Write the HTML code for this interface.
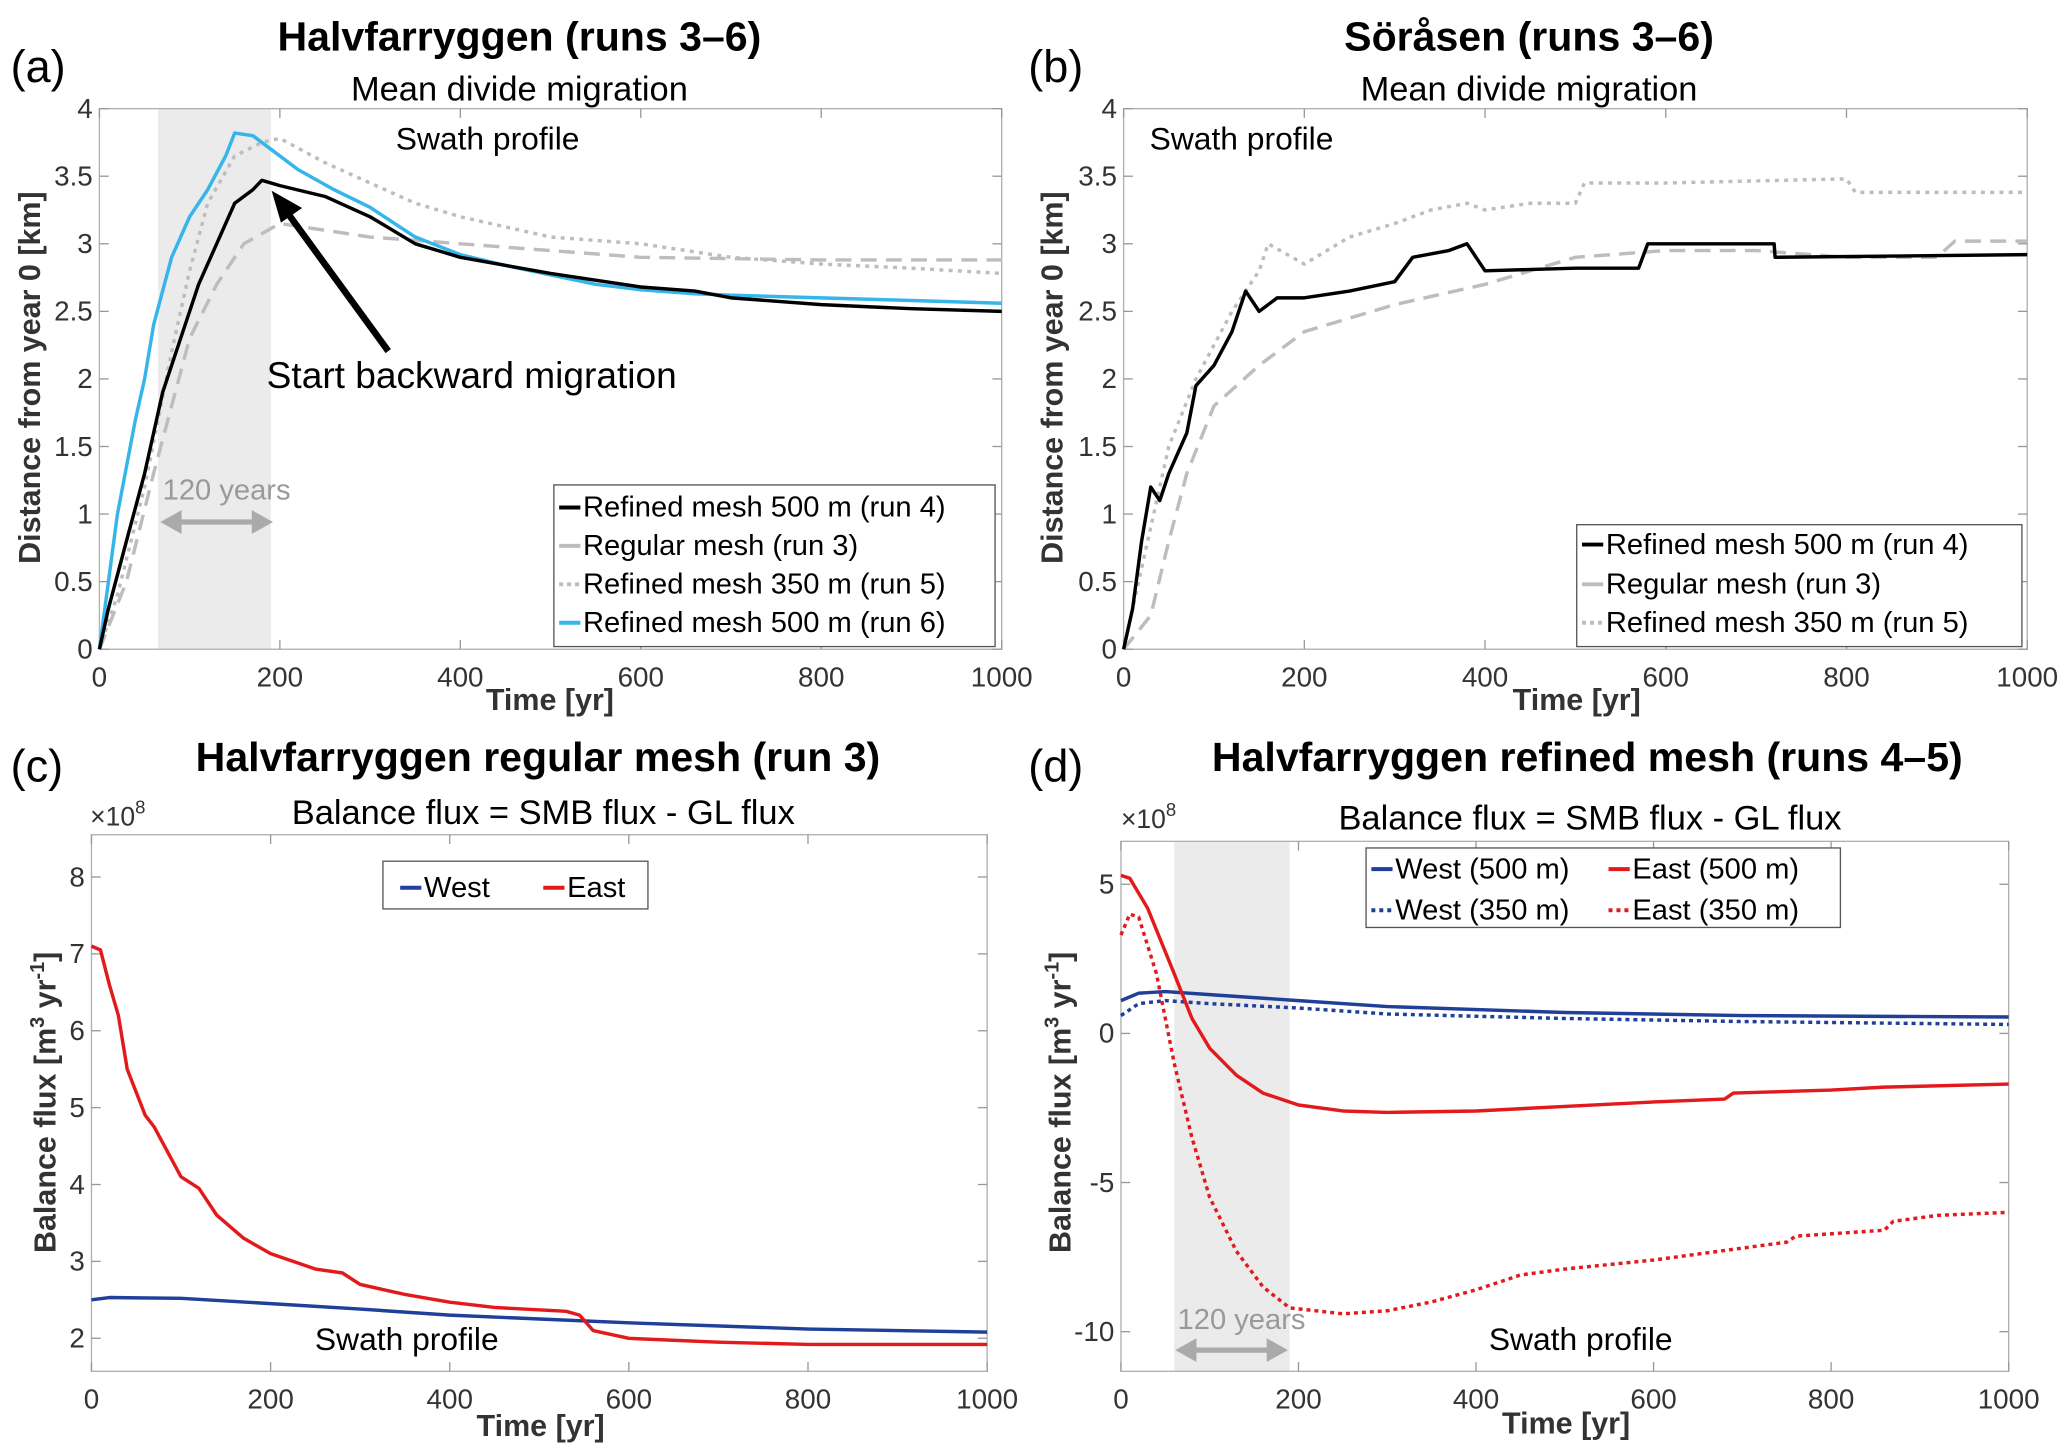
<!DOCTYPE html>
<html><head><meta charset="utf-8"><style>
html,body{margin:0;padding:0;background:#fff}
svg{display:block}
text{font-family:"Liberation Sans",sans-serif}
</style></head><body>
<svg id="fig" width="2067" height="1454" viewBox="0 0 1560 1097.4" xmlns="http://www.w3.org/2000/svg"></svg>
<script>
const timeTicks=[0,200,400,600,800,1000];
const aYTicks=[0,0.5,1,1.5,2,2.5,3,3.5,4];
const cYTicks=[2,3,4,5,6,7,8];
const dYTicks=[-10,-5,0,5];
const aRun4T=[0,10,30,50,70,90,110,130,150,170,180,200,250,300,350,400,500,600,660,700,800,900,1000];
const aRun4V=[0,0.3,0.8,1.3,1.9,2.3,2.7,3.0,3.3,3.4,3.47,3.43,3.35,3.2,3.0,2.9,2.78,2.68,2.65,2.6,2.55,2.52,2.5];
const aRun6T=[0,10,20,40,50,60,80,100,120,140,150,170,190,220,260,300,350,400,450,500,550,600,660,700,800,900,1000];
const aRun6V=[0,0.5,1.0,1.7,2.0,2.4,2.9,3.2,3.4,3.65,3.82,3.8,3.7,3.55,3.4,3.27,3.05,2.92,2.84,2.77,2.7,2.66,2.63,2.62,2.6,2.58,2.56];
const aRun5T=[0,20,50,80,100,120,150,180,200,250,300,350,400,500,600,700,800,900,1000];
const aRun5V=[0,0.4,1.2,2.2,2.8,3.3,3.65,3.75,3.78,3.6,3.45,3.3,3.2,3.05,3.0,2.9,2.85,2.82,2.78];
const aRun3T=[0,30,60,80,100,130,160,200,250,300,400,500,600,800,1000];
const aRun3V=[0,0.5,1.3,1.8,2.3,2.7,3.0,3.15,3.1,3.05,3.0,2.95,2.9,2.88,2.88];
const bRun4T=[0,10,20,30,40,50,70,80,100,120,135,150,170,200,250,300,320,360,380,400,500,570,580,720,721,1000];
const bRun4V=[0,0.3,0.8,1.2,1.1,1.3,1.6,1.95,2.1,2.35,2.65,2.5,2.6,2.6,2.65,2.72,2.9,2.95,3.0,2.8,2.82,2.82,3.0,3.0,2.9,2.92];
const bRun5T=[0,20,50,80,120,150,160,200,250,300,340,380,400,450,500,510,600,800,810,1000];
const bRun5V=[0,0.6,1.5,2.0,2.5,2.8,3.0,2.85,3.05,3.15,3.25,3.3,3.25,3.3,3.3,3.45,3.45,3.48,3.38,3.38];
const bRun3T=[0,30,50,70,100,150,200,300,400,500,600,700,800,900,920,1000];
const bRun3V=[0,0.25,0.8,1.3,1.8,2.1,2.35,2.55,2.7,2.9,2.95,2.95,2.9,2.9,3.02,3.02];
const cEastT=[0,10,20,30,40,60,70,100,120,140,170,200,250,280,300,350,400,450,530,545,560,600,700,800,1000];
const cEastV=[7.1,7.05,6.6,6.2,5.5,4.9,4.75,4.1,3.95,3.6,3.3,3.1,2.9,2.85,2.7,2.57,2.47,2.4,2.35,2.3,2.1,2.0,1.95,1.92,1.92];
const cWestT=[0,20,100,200,300,400,500,600,800,1000];
const cWestV=[2.5,2.53,2.52,2.45,2.38,2.3,2.25,2.2,2.12,2.08];
const dE500T=[0,10,30,60,80,100,130,160,200,250,300,400,500,600,680,690,800,860,1000];
const dE500V=[5.3,5.2,4.2,2.0,0.5,-0.5,-1.4,-2.0,-2.4,-2.6,-2.65,-2.6,-2.45,-2.3,-2.2,-2.0,-1.9,-1.8,-1.7];
const dE350T=[0,10,20,40,60,80,100,130,160,190,250,300,350,400,430,450,500,600,700,750,760,860,870,920,1000];
const dE350V=[3.3,4.0,3.9,2.0,-1.0,-3.5,-5.5,-7.3,-8.5,-9.2,-9.4,-9.3,-9.0,-8.6,-8.3,-8.1,-7.9,-7.6,-7.2,-7.0,-6.8,-6.6,-6.3,-6.1,-6.0];
const dW500T=[0,20,50,100,200,300,500,700,1000];
const dW500V=[1.1,1.35,1.4,1.3,1.1,0.9,0.7,0.6,0.55];
const dW350T=[0,20,50,100,200,300,500,700,1000];
const dW350V=[0.6,1.0,1.1,1.0,0.85,0.65,0.5,0.4,0.3];

const NS="http://www.w3.org/2000/svg";
const svg=document.getElementById('fig');
function el(tag,attrs,parent,txt){const e=document.createElementNS(NS,tag);for(const k in attrs)e.setAttribute(k,attrs[k]);if(txt!==undefined)e.textContent=txt;(parent||svg).appendChild(e);return e;}
function txt(x,y,s,size,opts,name){const t=el('text',Object.assign({x:x,y:y,'font-size':size},opts||{}),svg,s);


return t;}
function panel(p){
  const sx=v=>p.x0+(v-p.xmin)/(p.xmax-p.xmin)*(p.x1-p.x0);
  const sy=v=>p.y0-(v-p.ymin)/(p.ymax-p.ymin)*(p.y0-p.y1);
  const g=el('g',{});
  
  
  if(p.shade){const r=el('rect',{x:sx(p.shade[0]),y:p.y1,width:sx(p.shade[1])-sx(p.shade[0]),height:p.y0-p.y1,fill:'#ebebeb'},g);
  
  }
  el('rect',{x:p.x0,y:p.y1,width:p.x1-p.x0,height:p.y0-p.y1,fill:'none',stroke:'#b0b0b0','stroke-width':1},g);
  timeTicks.forEach(v=>{const x=sx(v);el('line',{x1:x,x2:x,y1:p.y0,y2:p.y0-7,stroke:'#999'},g);el('line',{x1:x,x2:x,y1:p.y1,y2:p.y1+7,stroke:'#999'},g);
    const t=el('text',{x:x,y:p.y0+28,'font-size':21,'text-anchor':'middle',fill:'#333'},g,String(v));
    
    });
  p.yticks.forEach(v=>{const y=sy(v);el('line',{x1:p.x0,x2:p.x0+7,y1:y,y2:y,stroke:'#999'},g);el('line',{x1:p.x1,x2:p.x1-7,y1:y,y2:y,stroke:'#999'},g);
    const t=el('text',{x:p.x0-5,y:y+7,'font-size':21,'text-anchor':'end',fill:'#333'},g,String(v));
    
    });
  p.series.forEach(s=>{const d=s.t.map((t,i)=>(i?'L':'M')+sx(t).toFixed(1)+','+sy(s.v[i]).toFixed(1)).join('');
    const path=el('path',{d:d,fill:'none',stroke:s.c,'stroke-width':s.w||2.6,'stroke-dasharray':s.dash||'none','stroke-linejoin':'round'},g);
    
    });
  return {sx,sy};
}
const GR='#bdbdbd';
panel({name:'panel-a-plot',x0:75,x1:756,y0:490,y1:82,xmin:0,xmax:1000,ymin:0,ymax:4,yticks:aYTicks,shade:[65,190],series:[
 {t:aRun3T,v:aRun3V,c:GR,dash:'12,7',name:'line-run3'},
 {t:aRun5T,v:aRun5V,c:GR,dash:'3,4',name:'line-run5'},
 {t:aRun6T,v:aRun6V,c:'#35b5ea',name:'line-run6'},
 {t:aRun4T,v:aRun4V,c:'#000',name:'line-run4'}]});
panel({name:'panel-b-plot',x0:848,x1:1530,y0:490,y1:82,xmin:0,xmax:1000,ymin:0,ymax:4,yticks:aYTicks,series:[
 {t:bRun3T,v:bRun3V,c:GR,dash:'12,7',name:'line-run3'},
 {t:bRun5T,v:bRun5V,c:GR,dash:'3,4',name:'line-run5'},
 {t:bRun4T,v:bRun4V,c:'#000',name:'line-run4'}]});
panel({name:'panel-c-plot',x0:69,x1:745,y0:1035,y1:630,xmin:0,xmax:1000,ymin:1.57,ymax:8.55,yticks:cYTicks,series:[
 {t:cWestT,v:cWestV,c:'#1f3f98',name:'line-west'},
 {t:cEastT,v:cEastV,c:'#e31a1c',name:'line-east'}]});
panel({name:'panel-d-plot',x0:846,x1:1516,y0:1035,y1:635,xmin:0,xmax:1000,ymin:-11.33,ymax:6.44,yticks:dYTicks,shade:[60,190],series:[
 {t:dW500T,v:dW500V,c:'#1f3f98',name:'line-west-500'},
 {t:dW350T,v:dW350V,c:'#1f3f98',dash:'3,3',name:'line-west-350'},
 {t:dE500T,v:dE500V,c:'#e31a1c',name:'line-east-500'},
 {t:dE350T,v:dE350V,c:'#e31a1c',dash:'3,3',name:'line-east-350'}]});

// titles
txt(392,38,'Halvfarryggen (runs 3–6)',31,{'font-weight':'bold','text-anchor':'middle'},'title-a');
txt(392,76,'Mean divide migration',26,{'text-anchor':'middle'},'subtitle-a');
txt(1154,38,'Söråsen (runs 3–6)',31,{'font-weight':'bold','text-anchor':'middle'},'title-b');
txt(1154,76,'Mean divide migration',26,{'text-anchor':'middle'},'subtitle-b');
txt(406,582,'Halvfarryggen regular mesh (run 3)',31,{'font-weight':'bold','text-anchor':'middle'},'title-c');
txt(410,622,'Balance flux = SMB flux - GL flux',26,{'text-anchor':'middle'},'subtitle-c');
txt(1198,582,'Halvfarryggen refined mesh (runs 4–5)',31,{'font-weight':'bold','text-anchor':'middle'},'title-d');
txt(1200,626,'Balance flux = SMB flux - GL flux',26,{'text-anchor':'middle'},'subtitle-d');
txt(8,62,'(a)',34,{},'panel-label-a');
txt(776,62,'(b)',34,{},'panel-label-b');
txt(8,590,'(c)',34,{},'panel-label-c');
txt(776,590,'(d)',34,{},'panel-label-d');
// axis titles
txt(415,536,'Time [yr]',23,{'font-weight':'bold','text-anchor':'middle',fill:'#333'},'x-axis-title-a');
txt(1190,536,'Time [yr]',23,{'font-weight':'bold','text-anchor':'middle',fill:'#333'},'x-axis-title-b');
txt(408,1084,'Time [yr]',23,{'font-weight':'bold','text-anchor':'middle',fill:'#333'},'x-axis-title-c');
txt(1182,1082,'Time [yr]',23,{'font-weight':'bold','text-anchor':'middle',fill:'#333'},'x-axis-title-d');
txt(0,0,'Distance from year 0 [km]',23,{'font-weight':'bold','text-anchor':'middle',fill:'#333',transform:'translate(30,285) rotate(-90)'},'y-axis-title-a');
txt(0,0,'Distance from year 0 [km]',23,{'font-weight':'bold','text-anchor':'middle',fill:'#333',transform:'translate(802,285) rotate(-90)'},'y-axis-title-b');
const yc=txt(0,0,'',23,{'font-weight':'bold','text-anchor':'middle',fill:'#333',transform:'translate(42,832) rotate(-90)'},'y-axis-title-c');
yc.innerHTML='Balance flux [m<tspan dy="-9" font-size="15">3</tspan><tspan dy="9"> yr</tspan><tspan dy="-9" font-size="15">-1</tspan><tspan dy="9">]</tspan>';
const yd=txt(0,0,'',23,{'font-weight':'bold','text-anchor':'middle',fill:'#333',transform:'translate(808,832) rotate(-90)'},'y-axis-title-d');
yd.innerHTML='Balance flux [m<tspan dy="-9" font-size="15">3</tspan><tspan dy="9"> yr</tspan><tspan dy="-9" font-size="15">-1</tspan><tspan dy="9">]</tspan>';
const e1=txt(68,623,'',20,{fill:'#333'},'exponent-label-c');e1.innerHTML='×10<tspan dy="-9" font-size="14">8</tspan>';
const e2=txt(846,625,'',20,{fill:'#333'},'exponent-label-d');e2.innerHTML='×10<tspan dy="-9" font-size="14">8</tspan>';
// annotations
txt(368,113,'Swath profile',24,{'text-anchor':'middle'},'swath-label-a');
txt(937,113,'Swath profile',24,{'text-anchor':'middle'},'swath-label-b');
txt(307,1019,'Swath profile',24,{'text-anchor':'middle'},'swath-label-c');
txt(1193,1019,'Swath profile',24,{'text-anchor':'middle'},'swath-label-d');
txt(356,293,'Start backward migration',28,{'text-anchor':'middle'},'annotation-backward');
el('line',{x1:293,y1:265,x2:215,y2:158,stroke:'#000','stroke-width':5});
el('polygon',{points:'205,144 228,157 212,168',fill:'#000'});
txt(171,377,'120 years',22,{'text-anchor':'middle',fill:'#999'},'annotation-120-a');
txt(937,1003,'120 years',22,{'text-anchor':'middle',fill:'#999'},'annotation-120-d');
function darrow(x1,x2,y){el('line',{x1:x1+12,x2:x2-12,y1:y,y2:y,stroke:'#aaa','stroke-width':4});
 el('polygon',{points:`${x1},${y} ${x1+16},${y-9} ${x1+16},${y+9}`,fill:'#aaa'});
 el('polygon',{points:`${x2},${y} ${x2-16},${y-9} ${x2-16},${y+9}`,fill:'#aaa'});}
darrow(121,206,394);darrow(887,972,1019);
// legends
function legend(x,y,w,h,items,name,fs){const g=el('g',{});
 
 
 el('rect',{x:x,y:y,width:w,height:h,fill:'#fff',stroke:'#555','stroke-width':1},g);
 items.forEach(it=>{el('line',{x1:it.x,x2:it.x+16,y1:it.y-7,y2:it.y-7,stroke:it.c,'stroke-width':3,'stroke-dasharray':it.dash||'none'},g);
  const t=el('text',{x:it.x+18,y:it.y,'font-size':fs||22},g,it.s);
  
  });}
legend(418,366,333,122,[{x:422,y:390,c:'#000',s:'Refined mesh 500 m (run 4)'},{x:422,y:419,c:GR,s:'Regular mesh (run 3)'},{x:422,y:448,c:GR,dash:'3,3',s:'Refined mesh 350 m (run 5)'},{x:422,y:477,c:'#35b5ea',s:'Refined mesh 500 m (run 6)'}],'legend-a');
legend(1190,396,336,92,[{x:1194,y:418,c:'#000',s:'Refined mesh 500 m (run 4)'},{x:1194,y:448,c:GR,s:'Regular mesh (run 3)'},{x:1194,y:477,c:GR,dash:'3,3',s:'Refined mesh 350 m (run 5)'}],'legend-b');
legend(289,650,200,36,[{x:302,y:677,c:'#1f3f98',s:'West'},{x:410,y:677,c:'#e31a1c',s:'East'}],'legend-c');
legend(1031,640,358,60,[{x:1035,y:663,c:'#1f3f98',s:'West (500 m)'},{x:1214,y:663,c:'#e31a1c',s:'East (500 m)'},{x:1035,y:694,c:'#1f3f98',dash:'3,3',s:'West (350 m)'},{x:1214,y:694,c:'#e31a1c',dash:'3,3',s:'East (350 m)'}],'legend-d');
</script>
</body></html>
